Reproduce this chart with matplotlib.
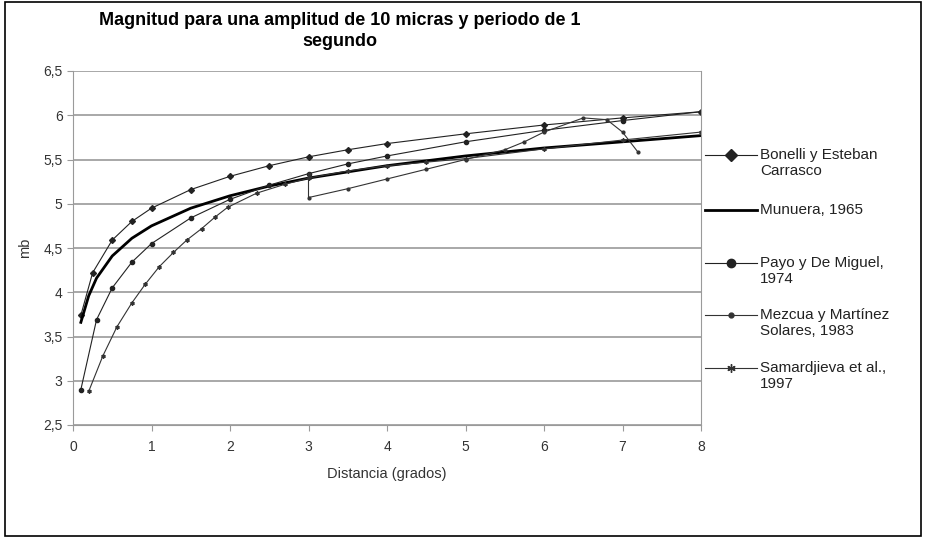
import matplotlib.pyplot as plt
from matplotlib.lines import Line2D
from matplotlib.patches import Rectangle

plt.rcParams['font.family'] = ['Liberation Sans', 'DejaVu Sans']

# distances (grados) and magnitudes
bonelli_x = [0.1, 0.25, 0.5, 0.75, 1, 1.5, 2, 2.5, 3, 3.5, 4, 5, 6, 7, 8]
bonelli_y = [3.74, 4.22, 4.59, 4.80, 4.95, 5.16, 5.31, 5.43, 5.53, 5.61, 5.68, 5.79, 5.89, 5.97, 6.04]

munuera_x = [0.1, 0.2, 0.3, 0.5, 0.75, 1, 1.5, 2, 2.5, 3, 4, 5, 6, 7, 8]
munuera_y = [3.66, 3.96, 4.16, 4.41, 4.61, 4.75, 4.95, 5.09, 5.20, 5.29, 5.43, 5.54, 5.63, 5.70, 5.77]

payo_x = [0.1, 0.3, 0.5, 0.75, 1, 1.5, 2, 2.5, 3, 3.5, 4, 5, 6, 7, 8]
payo_y = [2.90, 3.69, 4.05, 4.34, 4.55, 4.84, 5.05, 5.21, 5.34, 5.45, 5.54, 5.70, 5.83, 5.94, 6.04]

mezcua_x = [3, 3, 3.5, 4, 4.5, 5, 5.5, 5.75, 6, 6.5, 6.8, 7, 7.2]
mezcua_y = [5.34, 5.07, 5.17, 5.28, 5.39, 5.50, 5.61, 5.70, 5.81, 5.97, 5.95, 5.81, 5.58]

samard_x = [0.2, 0.38, 0.56, 0.75, 0.92, 1.1, 1.28, 1.45, 1.64, 1.81, 1.97, 2.34, 2.7, 3.0,
            3.5, 4.0, 4.5, 5, 6, 7, 8]
samard_y = [2.88, 3.28, 3.61, 3.88, 4.09, 4.29, 4.45, 4.59, 4.72, 4.85, 4.96, 5.12, 5.22, 5.29,
            5.37, 5.43, 5.47, 5.51, 5.62, 5.72, 5.81]

labels = ['Bonelli y Esteban\nCarrasco', 'Munuera, 1965', 'Payo y De Miguel,\n1974',
          'Mezcua y Martínez\nSolares, 1983', 'Samardjieva et al.,\n1997']

W, H = 926, 538
fig = plt.figure(figsize=(W / 100, H / 100), dpi=100)
ax = fig.add_axes([73 / W, 1 - 425 / H, 628 / W, 354 / H])

lw = 0.8
asterisk = (6, 2, 0)
lines = []
lines += ax.plot(bonelli_x, bonelli_y, color='#222222', lw=lw, marker='D', ms=3)
lines += ax.plot(munuera_x, munuera_y, color='black', lw=2.0)
lines += ax.plot(payo_x, payo_y, color='#222222', lw=lw, marker='o', ms=3)
lines += ax.plot(mezcua_x, mezcua_y, color='#333333', lw=lw, marker='.', ms=4)
lines += ax.plot(samard_x, samard_y, color='#333333', lw=lw, marker=asterisk, ms=3)

ax.set_xlim(0, 8)
ax.set_ylim(2.5, 6.5)
ax.set_xticks(range(0, 9))
ax.set_yticks([2.5, 3, 3.5, 4, 4.5, 5, 5.5, 6, 6.5])
ax.set_yticklabels(['2,5', '3', '3,5', '4', '4,5', '5', '5,5', '6', '6,5'])
ax.yaxis.grid(True, color='#9a9a9a', lw=1.2)
ax.set_axisbelow(True)
for s in ['left', 'bottom', 'right']:
    ax.spines[s].set_color('#9a9a9a')
ax.spines['top'].set_visible(False)
ax.tick_params(colors='#9a9a9a', labelcolor='#333333', labelsize=10, length=4, direction='out')
ax.tick_params(axis='x', pad=7)

ax.set_xlabel('Distancia (grados)', fontsize=10.5, color='#333333', labelpad=9)
ax.set_ylabel('mb', fontsize=10.5, color='#333333', labelpad=8)

fig.text(340 / W, 1 - 12 / H, 'Magnitud para una amplitud de 10 micras y periodo de 1\nsegundo',
         ha='center', va='top', fontsize=13, fontweight='bold', linespacing=1.3)

# legend drawn by hand so the sample sits on the first text line, as in the original
leg_y = [155, 210, 263, 315, 368]
for ln, lab, yp in zip(lines, labels, leg_y):
    yf = 1 - yp / H
    fig.add_artist(Line2D([705 / W, 757 / W], [yf, yf], transform=fig.transFigure,
                          color=ln.get_color(), lw=ln.get_linewidth()))
    if ln.get_marker() not in ('None', None, ''):
        fig.add_artist(Line2D([731 / W], [yf], transform=fig.transFigure, ls='none',
                              marker=ln.get_marker(), ms=ln.get_markersize() + 3,
                              color=ln.get_color()))
    fig.text(760 / W, 1 - (yp - 7) / H, lab, ha='left', va='top', fontsize=11,
             color='#222222', linespacing=1.15)

fig.patches.append(Rectangle((0.005, 0.003), 0.99, 0.993, transform=fig.transFigure,
                             fill=False, edgecolor='black', lw=1.2))

fig.savefig('out.png', dpi=100)
